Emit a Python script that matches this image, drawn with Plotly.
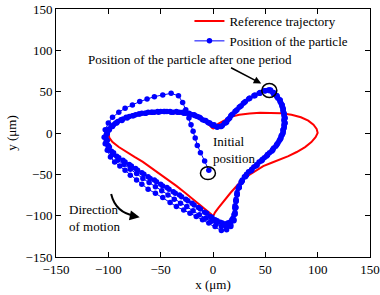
import plotly.graph_objects as go

# Reference trajectory (red)
ref_x = [0, -3, -7, -12, -18, -25, -35, -45, -55, -65, -75, -83, -90, -95, -98.5, -100,
         -99, -96, -90, -83, -75, -67, -59, -51, -43, -35, -27, -19, -12, -6, -2, 0,
         2, 5, 8, 12, 17, 22, 27, 33, 40, 48, 56, 64, 72, 80, 88, 94, 98, 100,
         99, 96, 91, 84, 75, 65, 55, 45, 35, 25, 17, 10, 5, 2, 0]
ref_y = [5, 9, 13, 17, 20, 22.5, 24, 24.5, 24, 23, 21, 18, 14, 10, 5, 0,
         -6, -11, -17, -23, -29, -35, -42, -49, -56, -64, -72, -80, -87, -93, -98, -101,
         -96, -91, -86, -79, -72, -65, -58, -52, -46, -40, -36, -32, -28, -23, -17, -11, -5, 0,
         5, 10, 15, 19, 22, 24, 24.5, 24.5, 23.5, 22, 19.5, 15, 11, 7, 5]

# Particle positions (blue), segment by segment
start_x = [-4, -8, -12, -15, -17, -19, -21, -23, -26, -29, -33, -40, -48, -56, -63, -70, -77, -84, -90, -96, -100, -103]
start_y = [-45, -34, -24, -15, -6, 2, 10, 18, 28, 37, 45, 48, 46, 44, 41, 38, 34, 30, 25, 19, 12, 4]

loop1_x = [-104, -103, -101, -98, -94, -89, -84, -79, -73, -68, -62, -55, -48, -41, -35, -28, -22, -16, -10, -4, 2, 8,
           13, 17,
           20, 21, 21, 22, 23, 25, 27, 30, 34, 39, 44, 49, 54, 58, 62, 65, 67, 68, 69, 69, 68, 67, 65, 62, 58, 54,
           50, 45, 40, 35, 30, 26, 22, 18, 15, 12, 8, 4,
           0, -4, -8, -13, -18, -23, -29, -35, -41, -47, -53, -59, -65, -71, -77, -83, -88, -93, -97, -100, -102]
loop1_y = [-5, -13, -21, -29, -35, -40, -45, -51, -57, -62, -68, -73, -78, -84, -89, -93, -97, -101, -105, -109, -113, -118,
           -117, -113,
           -106, -98, -90, -82, -74, -66, -59, -53, -47, -41, -35, -30, -24, -18, -12, -6, 0, 6, 12, 18, 24, 30, 36, 42, 47, 51,
           51, 49, 46, 42, 37, 32, 27, 22, 17, 12, 8, 7,
           9, 12, 15, 19, 22, 24, 25, 26, 26, 26, 26, 25, 24, 23, 21, 19, 16, 12, 8, 3, -2]

loop2_x = [-102, -100, -96, -91, -85, -79, -73, -67, -61, -55, -49, -43, -37, -31, -25, -19, -13, -7, -2, 3, 8,
           13, 17, 20,
           21, 22, 22, 23, 25, 28, 32, 37, 42, 47, 52, 57, 61, 64, 66, 67, 68, 68, 68, 67, 66, 64, 61, 57, 53,
           49, 44, 39, 34, 29, 25, 21, 17, 14, 11, 7, 3,
           -1, -5, -10, -15, -20, -26, -32, -38, -44, -50, -56, -62, -68, -74, -80, -86, -91, -95, -99, -101]
loop2_y = [-10, -18, -26, -33, -38, -44, -49, -55, -60, -65, -70, -75, -80, -85, -89, -94, -99, -103, -107, -110, -113,
           -114, -111, -105,
           -98, -90, -82, -74, -66, -58, -51, -45, -39, -33, -27, -21, -14, -8, -2, 4, 10, 16, 22, 28, 34, 40, 45, 49, 52,
           51, 48, 45, 41, 36, 31, 26, 21, 16, 12, 8, 8,
           10, 13, 16, 20, 22, 24, 25, 25, 26, 26, 25, 25, 24, 22, 20, 17, 14, 10, 5, 0]

loop3_x = [-102, -100, -97, -92, -86, -80, -74, -68, -62, -56, -50, -44, -38, -32, -26, -20, -14, -8, -3, 2, 7,
           12, 16, 19,
           21, 21, 22, 23, 25, 28, 32, 37, 42, 47, 52, 57, 61, 64, 66, 67, 68, 68, 68, 67, 66, 64, 61, 58, 54,
           50, 45, 40, 35, 31, 27, 23, 19, 16, 13, 9, 5,
           1, -3, -7, -12, -17, -22, -28, -34, -40, -46, -52, -58, -64, -70, -76, -82, -87, -92, -96, -99, -101]
loop3_y = [-7, -15, -22, -28, -33, -38, -43, -48, -53, -57, -62, -66, -71, -75, -80, -85, -90, -96, -101, -105, -108,
           -110, -108, -103,
           -96, -88, -80, -72, -64, -57, -50, -44, -38, -32, -26, -20, -14, -8, -2, 4, 10, 16, 22, 28, 34, 40, 45, 49, 52,
           51, 48, 45, 42, 38, 33, 28, 23, 18, 13, 9, 8,
           10, 12, 15, 18, 21, 23, 24, 25, 25, 26, 25, 25, 24, 23, 21, 18, 15, 12, 8, 4, -1]

loop4_x = [-101, -99, -95, -90, -84, -78, -72, -66, -60, -54, -48, -42, -36, -30, -24, -18, -12, -6, -1, 4,
           9, 14, 18,
           20, 21, 22, 23, 24, 27, 31, 36, 41, 46, 51, 56, 60, 63, 65, 67, 68, 68, 68, 67, 66, 64, 61, 58, 55]
loop4_y = [-9, -17, -24, -30, -35, -40, -45, -50, -55, -59, -64, -68, -73, -77, -82, -87, -92, -97, -102, -106,
           -109, -109, -105,
           -99, -91, -83, -75, -67, -60, -53, -46, -40, -34, -28, -22, -16, -10, -4, 2, 8, 14, 20, 26, 32, 38, 44, 48, 52]

blue_x = start_x + loop1_x + loop2_x + loop3_x + loop4_x
blue_y = start_y + loop1_y + loop2_y + loop3_y + loop4_y

x_ticks = [-150, -100, -50, 0, 50, 100, 150]
y_ticks = [-150, -100, -50, 0, 50, 100, 150]

FONT = "Liberation Serif"
txt_font = dict(family=FONT, size=13, color="black")

fig = go.Figure()
fig.add_trace(go.Scatter(x=ref_x, y=ref_y, mode="lines", name="Reference trajectory",
                         line=dict(color="#FF0000", width=2)))
fig.add_trace(go.Scatter(x=blue_x, y=blue_y, mode="lines+markers", name="Position of the particle",
                         line=dict(color="#0000FF", width=1),
                         marker=dict(color="#0000FF", size=5.5)))

axis_common = dict(showline=True, linecolor="black", linewidth=1, mirror="ticks",
                   ticks="inside", ticklen=5, tickwidth=1, tickcolor="black",
                   showgrid=False, zeroline=False, automargin=False,
                   tickfont=txt_font)

fig.update_xaxes(range=[-150, 150], tickvals=x_ticks, **axis_common,
                 title=dict(text="x (μm)", font=txt_font, standoff=4))
fig.update_yaxes(range=[-150, 150], tickvals=y_ticks, **axis_common,
                 title=dict(text="y (μm)", font=txt_font, standoff=6))

# circles
fig.add_shape(type="circle", xref="x", yref="y", x0=46.6, x1=61.0, y0=43.0, y1=59.8,
              line=dict(color="black", width=1.5))
fig.add_shape(type="circle", xref="x", yref="y", x0=-12.0, x1=2.3, y0=-56.4, y1=-40.8,
              line=dict(color="black", width=1.5))
# curved arrow body
fig.add_shape(type="path", xref="x", yref="y",
              path="M -97.3,-73.9 Q -93,-97 -74,-100.5",
              line=dict(color="black", width=2))

fig.add_annotation(x=-70, y=-102, ax=-10, ay=-2, xref="x", yref="y", axref="pixel", ayref="pixel",
                   text="", showarrow=True, arrowhead=2, arrowsize=1, arrowwidth=2, arrowcolor="black")
fig.add_annotation(x=46.1, y=59.9, ax=15.8, ay=79.9, xref="x", yref="y", axref="x", ayref="y",
                   text="", showarrow=True, arrowhead=2, arrowsize=1, arrowwidth=1.5, arrowcolor="black")

fig.add_annotation(x=-120.9, y=89.2, xref="x", yref="y", text="Position of the particle after one period",
                   showarrow=False, xanchor="left", yanchor="middle", font=txt_font)
fig.add_annotation(x=-2, y=-21, xref="x", yref="y", text="Initial<br>position",
                   showarrow=False, xanchor="left", yanchor="middle", align="left", font=txt_font)
fig.add_annotation(x=-139.5, y=-102.8, xref="x", yref="y", text="Direction<br>of motion",
                   showarrow=False, xanchor="left", yanchor="middle", align="left", font=txt_font)

fig.update_layout(
    width=380, height=295,
    margin=dict(l=56, r=10, t=9, b=38, autoexpand=False),
    paper_bgcolor="white", plot_bgcolor="white",
    showlegend=True,
    legend=dict(x=0.425, y=1.012, xanchor="left", yanchor="top",
                bgcolor="rgba(255,255,255,0)", borderwidth=0,
                font=txt_font, tracegroupgap=0, itemwidth=30),
    font=txt_font,
)

fig.write_html("out.html", config={"displayModeBar": False},
               post_script="document.body.style.margin='0';document.body.style.padding='0';")
